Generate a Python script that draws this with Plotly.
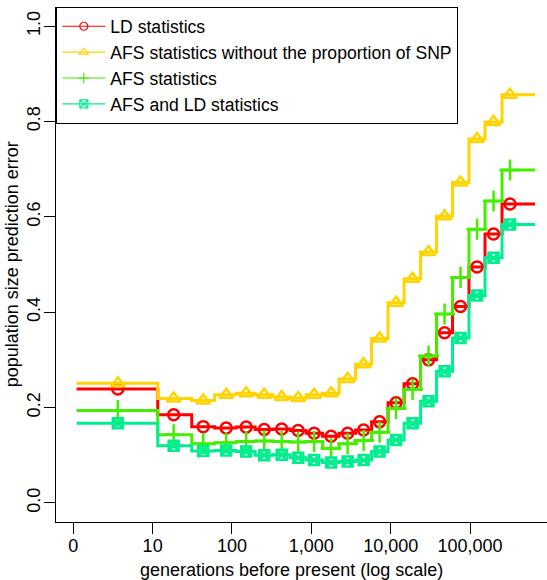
import plotly.graph_objects as go

# window edges (generations before present) and window centres where markers sit
edges = [1.1, 11.6, 31.1, 60.5, 113, 196, 330, 541, 860, 1387, 2238, 3612, 5745,
         9270, 14750, 23800, 37860, 60200, 97000, 154500, 253000, 659000]
mids = [3.64, 18.4, 43.4, 84.5, 151, 255, 423, 682, 1084, 1774, 2865, 4558, 7248,
        11700, 18870, 29990, 47750, 75900, 122500, 197800, 319000]

ld = [0.239, 0.185, 0.160, 0.157, 0.159, 0.154, 0.155, 0.152, 0.146, 0.140, 0.146,
      0.153, 0.170, 0.210, 0.250, 0.300, 0.357, 0.412, 0.495, 0.564, 0.627]
afs_nosnp = [0.251, 0.219, 0.215, 0.227, 0.230, 0.227, 0.222, 0.220, 0.227, 0.230, 0.260,
             0.291, 0.345, 0.420, 0.470, 0.526, 0.601, 0.672, 0.763, 0.799, 0.856]
afs = [0.194, 0.143, 0.124, 0.126, 0.129, 0.130, 0.129, 0.128, 0.129, 0.114, 0.124,
       0.131, 0.148, 0.198, 0.238, 0.308, 0.396, 0.473, 0.574, 0.633, 0.698]
afs_ld = [0.167, 0.120, 0.109, 0.110, 0.108, 0.100, 0.101, 0.095, 0.090, 0.085, 0.087,
          0.090, 0.108, 0.132, 0.167, 0.213, 0.276, 0.346, 0.435, 0.514, 0.584]

names = ["LD statistics", "AFS statistics without the proportion of SNP",
         "AFS statistics", "AFS and LD statistics"]
values = [ld, afs_nosnp, afs, afs_ld]
colors = ["#FF0000", "#FFD400", "#44EE00", "#00EE90"]
symbols = ["circle-open", "triangle-up-open", "cross-thin-open", "square-x-open"]
sizes = [11, 12, 15, 10]

xtick_vals = [1, 10, 100, 1000, 10000, 100000]
xtick_text = ["0", "10", "100", "1,000", "10,000", "100,000"]
ytick_vals = [0.0, 0.2, 0.4, 0.6, 0.8, 1.0]
ytick_text = ["0.0", "0.2", "0.4", "0.6", "0.8", "1.0"]

FONT = "Liberation Sans, Arial, Helvetica, sans-serif"

fig = go.Figure()
for name, vals, col, sym, sz in zip(names, values, colors, symbols, sizes):
    fig.add_trace(go.Scatter(
        x=edges, y=vals + [vals[-1]], mode="lines",
        line=dict(color=col, width=3, shape="hv"),
        showlegend=False, hoverinfo="skip"))
    fig.add_trace(go.Scatter(
        x=mids, y=vals, mode="markers",
        marker=dict(symbol=sym, size=sz, color=col, line=dict(color=col, width=2.5)),
        showlegend=False, hoverinfo="skip"))

for name, col, sym in zip(names, colors, symbols):
    fig.add_trace(go.Scatter(
        x=[None], y=[None], mode="lines+markers", name=name, legendgroup=name,
        line=dict(color=col, width=1.2),
        marker=dict(symbol=sym, size=8, color=col, line=dict(color=col, width=1.2))))

fig.update_layout(
    width=547, height=580,
    margin=dict(l=56, r=0, t=7, b=58),
    paper_bgcolor="white", plot_bgcolor="white",
    font=dict(family=FONT, size=18, color="black"),
    legend=dict(x=0, y=1, xanchor="left", yanchor="top",
                bgcolor="white", bordercolor="black", borderwidth=1.3,
                font=dict(size=17.6), itemwidth=43, tracegroupgap=0),
    xaxis=dict(type="log", range=[-0.218, 5.970], automargin=False,
               tickvals=xtick_vals, ticktext=xtick_text, ticklabelstandoff=-4,
               showline=True, linecolor="black", linewidth=1.3,
               ticks="outside", ticklen=11, tickwidth=1.3, tickcolor="black",
               showgrid=False, zeroline=False),
    yaxis=dict(range=[-0.04, 1.04], automargin=False,
               tickvals=ytick_vals, ticktext=ytick_text, tickangle=-90,
               ticklabelstandoff=-3,
               showline=True, linecolor="black", linewidth=1.3,
               ticks="outside", ticklen=11, tickwidth=1.3, tickcolor="black",
               showgrid=False, zeroline=False),
    annotations=[
        dict(text="generations before present (log scale)",
             xref="paper", yref="paper", x=0.48, y=-0.093,
             xanchor="center", yanchor="middle", showarrow=False,
             font=dict(size=18)),
        dict(text="population size prediction error", textangle=-90,
             xref="paper", yref="paper", x=-0.09, y=0.5,
             xanchor="center", yanchor="middle", showarrow=False,
             font=dict(size=18)),
    ],
)

fig.write_html("out.html")
